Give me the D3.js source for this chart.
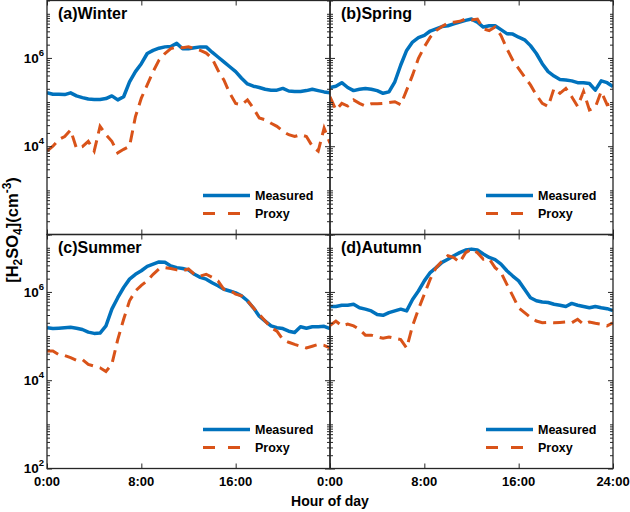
<!DOCTYPE html>
<html><head><meta charset="utf-8">
<script src="https://cdn.jsdelivr.net/npm/d3@7"></script>
<style>
body{margin:0;background:#fff}
text{font-family:"Liberation Sans",Arial,sans-serif;font-weight:bold;fill:#000}
</style>
</head><body>
<svg id="chart" width="630" height="512"></svg>
<script>
// ---- data (hour of day, [H2SO4] in cm^-3) ----
const hours = [0,0.5,1,1.5,2,2.5,3,3.5,4,4.5,5,5.5,6,6.5,7,7.5,8,8.5,9,9.5,10,10.5,11,11.5,12,12.5,13,13.5,14,14.5,15,15.5,16,16.5,17,17.5,18,18.5,19,19.5,20,20.5,21,21.5,22,22.5,23,23.5,24];

const winterMeasured = [1.62e5,1.51e5,1.51e5,1.48e5,1.62e5,1.38e5,1.26e5,1.17e5,1.15e5,1.15e5,1.2e5,1.38e5,1.12e5,1.32e5,2.88e5,4.9e5,7.41e5,1.26e6,1.48e6,1.66e6,1.78e6,1.82e6,2.14e6,1.62e6,1.62e6,1.7e6,1.78e6,1.78e6,1.35e6,1.05e6,8.13e5,6.31e5,4.9e5,3.47e5,2.57e5,2.29e5,2.14e5,1.95e5,1.86e5,1.86e5,2.04e5,1.78e5,1.74e5,1.74e5,1.82e5,1.95e5,1.82e5,1.7e5,1.62e5];
const winterProxy = [7.76e3,1.0e4,1.41e4,1.66e4,2.34e4,8.91e3,9.77e3,1.29e4,7.76e3,2.82e4,1.82e4,1.29e4,7.08e3,8.51e3,1.0e4,4.68e4,1.23e5,2.45e5,4.9e5,8.91e5,1.26e6,1.62e6,1.78e6,1.7e6,1.78e6,1.62e6,1.48e6,1.29e6,9.77e5,5.25e5,3.16e5,1.58e5,9.33e4,8.71e4,1.12e5,7.24e4,4.37e4,3.98e4,3.31e4,2.82e4,2.19e4,1.82e4,1.66e4,1.82e4,1.66e4,1.0e4,7.76e3,2.57e4,1.17e4];

const springMeasured = [2.14e5,2.29e5,2.75e5,2.14e5,1.82e5,1.95e5,2.04e5,1.95e5,1.82e5,1.58e5,1.7e5,2.88e5,6.92e5,1.48e6,2.29e6,2.88e6,3.24e6,4.07e6,4.57e6,5.13e6,5.37e6,5.89e6,6.46e6,7.08e6,7.59e6,6.46e6,5.0e6,5.37e6,5.37e6,4.37e6,3.55e6,3.47e6,2.95e6,2.57e6,1.9e6,1.26e6,7.41e5,4.9e5,3.89e5,3.24e5,3.16e5,3.02e5,2.75e5,2.75e5,2.63e5,1.86e5,3.02e5,2.75e5,2.24e5];
const springProxy = [1.32e5,6.61e4,9.33e4,8.13e4,1.12e5,9.33e4,8.13e4,9.12e4,9.12e4,9.33e4,9.77e4,1.02e5,8.71e4,1.86e5,4.07e5,9.77e5,1.78e6,2.95e6,4.17e6,5.13e6,6.17e6,6.46e6,6.76e6,7.59e6,7.24e6,7.59e6,4.57e6,4.17e6,5.0e6,3.24e6,1.62e6,8.91e5,5.75e5,3.72e5,2.45e5,1.45e5,9.33e4,7.94e4,2.04e5,1.58e5,2.04e5,1.32e5,7.94e4,1.74e5,6.61e4,7.59e4,1.74e5,8.71e4,9.33e4];

const summerMeasured = [1.55e5,1.48e5,1.51e5,1.55e5,1.58e5,1.51e5,1.41e5,1.23e5,1.15e5,1.17e5,1.7e5,4.07e5,7.41e5,1.26e6,1.95e6,2.51e6,3.02e6,3.8e6,4.27e6,4.79e6,4.68e6,3.89e6,3.55e6,3.39e6,3.16e6,2.51e6,2.14e6,1.95e6,1.62e6,1.38e6,1.15e6,1.05e6,9.55e5,8.13e5,6.31e5,4.37e5,2.82e5,2.19e5,1.7e5,1.55e5,1.48e5,1.29e5,1.2e5,1.62e5,1.51e5,1.62e5,1.62e5,1.66e5,1.48e5];
const summerProxy = [4.57e4,4.57e4,3.8e4,3.63e4,3.24e4,2.82e4,2.95e4,2.29e4,2.09e4,1.91e4,1.58e4,2.29e4,8.32e4,2.4e5,6.31e5,1.05e6,1.41e6,1.78e6,2.51e6,3.31e6,3.55e6,3.39e6,3.16e6,3.02e6,3.31e6,2.51e6,2.29e6,2.51e6,2.14e6,1.78e6,1.15e6,1.1e6,8.91e5,8.13e5,6.31e5,4.37e5,3.09e5,2.19e5,1.55e5,1.29e5,8.32e4,7.24e4,6.46e4,5.89e4,5.37e4,5.89e4,6.46e4,6.17e4,5.37e4];

const autumnMeasured = [4.68e5,4.68e5,5.0e5,5.0e5,5.25e5,4.37e5,4.07e5,3.72e5,3.09e5,2.95e5,3.39e5,3.72e5,4.07e5,3.72e5,6.76e5,1.05e6,1.78e6,2.75e6,3.55e6,4.68e6,5.5e6,6.61e6,7.76e6,8.91e6,9.33e6,8.91e6,7.24e6,6.03e6,5.37e6,4.27e6,3.02e6,2.29e6,1.78e6,1.15e6,7.41e5,6.31e5,5.89e5,5.75e5,5.25e5,5.0e5,4.68e5,5.5e5,5.0e5,4.68e5,4.37e5,4.68e5,4.37e5,4.17e5,3.8e5];
const autumnProxy = [1.74e5,2.19e5,1.7e5,1.86e5,1.7e5,1.41e5,1.05e5,1.05e5,9.55e4,8.91e4,9.55e4,8.91e4,8.32e4,5.37e4,1.7e5,4.07e5,8.91e5,1.95e6,3.55e6,5.0e6,6.61e6,6.03e6,4.68e6,7.76e6,9.33e6,7.76e6,5.5e6,5.62e6,3.55e6,2.75e6,1.48e6,8.13e5,4.37e5,3.39e5,2.63e5,2.19e5,2.0e5,2.04e5,2.0e5,2.04e5,2.09e5,2.0e5,2.4e5,1.86e5,2.09e5,1.95e5,1.86e5,1.7e5,2.0e5];

const panelLabels = ["(a)Winter","(b)Spring","(c)Summer","(d)Autumn"];
const seriesNames = ["Measured","Proxy"];
const xTickHours = [0,8,16,24];
const xTickLabelsLeft = ["0:00","8:00","16:00","0:00"];
const xTickLabelsRight = ["0:00","8:00","16:00","24:00"];
const yMajorTicks = [1e2,1e4,1e6];
const yDomain = [1e2,2e7];

// ---- layout ----
const svg = d3.select("#chart");
const W = 283, H = 234;
const colM = "#0072BD", colP = "#D95319", frameCol = "#262626";
const panels = [
  {label:panelLabels[0], m:winterMeasured, p:winterProxy, x0:47, y0:0.5, left:true, bottom:false},
  {label:panelLabels[1], m:springMeasured, p:springProxy, x0:330, y0:0.5, left:false, bottom:false},
  {label:panelLabels[2], m:summerMeasured, p:summerProxy, x0:47, y0:234.5, left:true, bottom:true},
  {label:panelLabels[3], m:autumnMeasured, p:autumnProxy, x0:330, y0:234.5, left:false, bottom:true}
];

const x = d3.scaleLinear().domain([0,24]).range([0,W]);
const y = d3.scaleLog().domain(yDomain).range([H,0]);
const minorTicks = y.ticks().filter(v => !yMajorTicks.includes(v));

const line = d3.line().x((d,i) => x(hours[i])).y(d => y(d));

panels.forEach((pn, k) => {
  const g = svg.append("g").attr("transform", `translate(${pn.x0},${pn.y0})`);
  const clipId = "clip" + k;
  g.append("clipPath").attr("id", clipId).append("rect").attr("width", W).attr("height", H);
  const plot = g.append("g").attr("clip-path", `url(#${clipId})`);
  plot.append("path").datum(pn.m).attr("d", line)
    .attr("fill","none").attr("stroke",colM).attr("stroke-width",3.5).attr("stroke-linejoin","round");
  plot.append("path").datum(pn.p).attr("d", line)
    .attr("fill","none").attr("stroke",colP).attr("stroke-width",3).attr("stroke-dasharray","12,7");

  // ticks (inward, all four sides)
  const tickGroups = [
    g.append("g").call(d3.axisLeft(y).tickValues(yMajorTicks).tickSize(-5).tickFormat("")),
    g.append("g").call(d3.axisLeft(y).tickValues(minorTicks).tickSize(-3).tickFormat("")),
    g.append("g").attr("transform",`translate(${W},0)`).call(d3.axisRight(y).tickValues(yMajorTicks).tickSize(-5).tickFormat("")),
    g.append("g").attr("transform",`translate(${W},0)`).call(d3.axisRight(y).tickValues(minorTicks).tickSize(-3).tickFormat("")),
    g.append("g").attr("transform",`translate(0,${H})`).call(d3.axisBottom(x).tickValues(xTickHours).tickSize(-5).tickFormat("")),
    g.append("g").call(d3.axisTop(x).tickValues(xTickHours).tickSize(-5).tickFormat(""))
  ];
  tickGroups.forEach(tg => {
    tg.select(".domain").remove();
    tg.selectAll("line").attr("stroke", frameCol).attr("stroke-width", 1);
  });

  // frame
  g.append("rect").attr("width",W).attr("height",H)
    .attr("fill","none").attr("stroke",frameCol).attr("stroke-width",1.3);

  // panel label
  g.append("text").attr("x",11).attr("y",18).attr("font-size",16).text(pn.label);

  // y tick labels
  if (pn.left) {
    const labs = pn.bottom ? yMajorTicks : yMajorTicks.filter(v => v > 1e2);
    labs.forEach(v => {
      const t = g.append("text").attr("x",-3).attr("y",y(v)).attr("dy","0.35em")
        .attr("text-anchor","end").attr("font-size",13.5);
      t.append("tspan").text("10");
      t.append("tspan").attr("font-size",9.5).attr("dy","-0.75em").text(String(Math.round(Math.log10(v))));
    });
  }
  // x tick labels
  if (pn.bottom) {
    const labels = pn.left ? xTickLabelsLeft : xTickLabelsRight;
    xTickHours.forEach((h,i) => {
      if (!pn.left && i === 0) return; // shared with left panel's last label
      g.append("text").attr("x",x(h)).attr("y",H+17).attr("text-anchor","middle")
        .attr("font-size",13).text(labels[i]);
    });
  }

  // legend
  const lx0 = W-127, lx1 = W-80;
  const lg = g.append("g");
  lg.append("line").attr("x1",lx0).attr("x2",lx1).attr("y1",H-39).attr("y2",H-39)
    .attr("stroke",colM).attr("stroke-width",3.5);
  lg.append("line").attr("x1",lx0).attr("x2",lx1).attr("y1",H-21).attr("y2",H-21)
    .attr("stroke",colP).attr("stroke-width",3).attr("stroke-dasharray","12,13");
  lg.append("text").attr("x",W-75).attr("y",H-39).attr("dy","0.36em").attr("font-size",12.5).text(seriesNames[0]);
  lg.append("text").attr("x",W-75).attr("y",H-21).attr("dy","0.36em").attr("font-size",12.5).text(seriesNames[1]);
});

// axis titles
svg.append("text").attr("x",330).attr("y",506).attr("text-anchor","middle").attr("font-size",14).text("Hour of day");
const yt = svg.append("text").attr("transform","translate(18,230) rotate(-90)").attr("text-anchor","middle").attr("font-size",16.5);
yt.append("tspan").text("[H");
yt.append("tspan").attr("font-size",12).attr("dy",4).text("2");
yt.append("tspan").attr("dy",-4).text("SO");
yt.append("tspan").attr("font-size",12).attr("dy",4).text("4");
yt.append("tspan").attr("dy",-4).text("](cm");
yt.append("tspan").attr("font-size",12).attr("dy",-7).text("-3");
yt.append("tspan").attr("dy",7).text(")");
</script>
</body></html>
